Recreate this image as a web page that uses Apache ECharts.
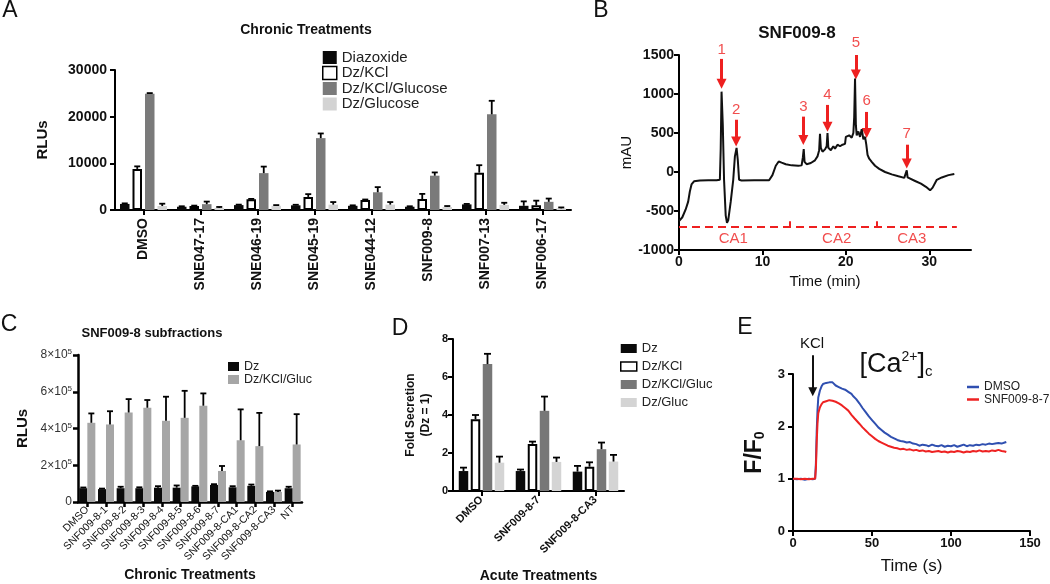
<!DOCTYPE html>
<html><head><meta charset="utf-8">
<script src="https://cdn.jsdelivr.net/npm/echarts@6/dist/echarts.min.js"></script>
<style>html,body{margin:0;padding:0;background:#fff}#c{width:1050px;height:584px}</style>
</head><body><div id="c"></div>
<script>
const FONT = '"Liberation Sans", Arial, Helvetica, sans-serif';

// ---------- Panel A ----------
const aCats = ['DMSO','SNE047-17','SNE046-19','SNE045-19','SNE044-12','SNF009-8','SNF007-13','SNF006-17'];
const aDiazoxide = [1300, 700, 1050, 1000, 900, 700, 1200, 900];
const aDiazoxideErr = [120, 100, 100, 120, 100, 100, 100, 950];
const aDzKCl = [8800, 860, 2300, 2800, 2150, 2350, 8000, 1000];
const aDzKClErr = [550, 80, 80, 600, 100, 1100, 1600, 1000];
const aDzKClGlucose = [24900, 1250, 7900, 15400, 3800, 7350, 20500, 1750];
const aDzKClGlucoseErr = [150, 550, 1400, 1000, 1100, 700, 2900, 700];
const aDzGlucose = [850, 450, 900, 1150, 1150, 650, 1100, 350];
const aDzGlucoseErr = [500, 200, 150, 550, 550, 200, 450, 200];

// ---------- Panel B ----------
const bTime = [0,0.4,0.8,1.1,1.3,1.5,1.8,2.5,3.5,4.5,4.9,5.0,5.1,5.25,5.4,5.6,5.75,5.9,6.2,6.5,6.7,6.9,7.05,7.2,7.5,9,10.8,11.2,11.6,11.95,12.3,12.8,13.5,14.3,14.7,14.85,14.95,15.05,15.3,15.8,16.3,16.6,16.8,16.9,17.0,17.2,17.5,17.7,17.8,17.9,18.2,18.5,18.7,19.0,19.3,19.6,19.9,20.0,20.2,20.4,20.7,20.9,21.0,21.1,21.2,21.3,21.5,21.7,21.9,22.1,22.3,22.45,22.6,22.8,23.1,23.5,24.0,24.7,25.5,26.3,27.0,27.2,27.3,27.4,27.6,28.3,29.0,29.6,30.1,30.4,30.9,31.5,32.3,33.0];
const bSignal = [-630,-580,-480,-380,-250,-160,-120,-108,-106,-106,-100,300,1030,600,-100,-560,-650,-620,-380,-100,200,310,150,-100,-108,-106,-106,-40,80,135,120,100,85,80,85,190,295,130,100,115,150,200,280,490,310,260,290,330,500,310,280,330,300,350,330,350,360,450,430,470,440,500,700,1200,600,470,520,450,550,420,450,350,220,170,130,80,40,0,-30,-55,-75,-50,20,-70,-90,-115,-150,-190,-235,-200,-100,-70,-40,-25];
const arrowLabels = ['1','2','3','4','5','6','7'];
const arrowTime = [5.1, 6.85, 14.9, 17.8, 21.2, 22.5, 27.3];
const arrowFrom = [1450, 670, 710, 860, 1500, 770, 350];
const arrowTo = [1130, 390, 410, 580, 1250, 500, 110];
const arrowLabelY = [1570, 800, 840, 990, 1650, 915, 490];
const caLabels = ['CA1','CA2','CA3'];
const caLabelTime = [6.5, 18.9, 27.9];
const caLabelY = -860;
const caLineY = -704;
const caLineEnd = 33.3;
const caDividers = [13.3, 23.7];
const caDividerTop = -630;

// ---------- Panel C ----------
const cCats = ['DMSO','SNF009-8-1','SNF009-8-2','SNF009-8-3','SNF009-8-4','SNF009-8-5','SNF009-8-6','SNF009-8-7','SNF009-8-CA1','SNF009-8-CA2','SNF009-8-CA3','NT'];
const cDz = [75000, 70000, 75000, 75000, 78000, 78000, 85000, 93000, 80000, 88000, 55000, 75000];
const cDzErr = [4000, 3000, 8000, 5000, 8000, 12000, 3000, 4000, 6000, 7000, 3000, 8000];
const cGluc = [431000, 422000, 487000, 513000, 442000, 458000, 524000, 169000, 336000, 304000, 55000, 313000];
const cGlucErr = [51000, 72000, 73000, 42000, 131000, 147000, 67000, 27000, 168000, 181000, 7000, 165000];

// ---------- Panel D ----------
const dCats = ['DMSO','SNF009-8-7','SNF009-8-CA3'];
const dDz = [1.05, 1.05, 1.02];
const dDzErr = [0.18, 0.08, 0.3];
const dDzKCl = [3.78, 2.48, 1.28];
const dDzKClErr = [0.22, 0.12, 0.23];
const dDzKClGluc = [6.68, 4.22, 2.2];
const dDzKClGlucErr = [0.54, 0.75, 0.35];
const dDzGluc = [1.49, 1.53, 1.55];
const dDzGlucErr = [0.32, 0.23, 0.35];

// ---------- Panel E ----------
const eTime = [0,2.5,5,7.5,10,12.5,14,14.5,15,15.5,16,17,18,19,20,21,22,23,24,25,26,27,28,29,30,31,32,33,34,35,36,37,38,39,40,42,44,46,48,50,52,54,56,58,60,62,64,66,68,70,72,74,76,78,80,82,84,86,88,90,92,94,96,98,100,102,104,106,108,110,112,114,116,118,120,122,124,126,128,130,132,134,135];
const eDMSO = [1.00,0.99,1.00,0.98,1.00,0.99,1.00,1.3,1.9,2.3,2.55,2.68,2.76,2.81,2.84,2.83,2.85,2.84,2.82,2.84,2.81,2.78,2.79,2.75,2.74,2.72,2.73,2.70,2.69,2.66,2.67,2.62,2.58,2.55,2.52,2.44,2.35,2.27,2.19,2.12,2.05,1.98,1.93,1.88,1.84,1.80,1.77,1.74,1.72,1.71,1.69,1.70,1.67,1.66,1.63,1.65,1.64,1.62,1.65,1.63,1.62,1.64,1.61,1.63,1.62,1.64,1.61,1.63,1.65,1.62,1.64,1.63,1.65,1.64,1.66,1.65,1.67,1.66,1.67,1.68,1.67,1.69,1.70];
const eSNF = [1.00,1.00,0.99,1.00,0.99,1.00,1.00,1.2,1.7,2.05,2.25,2.36,2.42,2.46,2.49,2.48,2.51,2.50,2.52,2.49,2.50,2.47,2.46,2.44,2.42,2.40,2.38,2.35,2.34,2.30,2.27,2.22,2.19,2.15,2.12,2.05,1.98,1.92,1.86,1.81,1.76,1.72,1.69,1.66,1.63,1.61,1.59,1.58,1.56,1.57,1.55,1.56,1.54,1.55,1.53,1.54,1.52,1.53,1.51,1.52,1.53,1.51,1.52,1.50,1.52,1.51,1.53,1.52,1.50,1.52,1.51,1.53,1.52,1.54,1.52,1.53,1.52,1.54,1.53,1.55,1.53,1.52,1.51];
const kclArrowTime = 12.5, kclArrowFrom = 3.36, kclArrowTo = 2.66;

// ---------- helpers ----------
function axisStyle(lw, fs, bold, margin) {
  return {
    axisLine: {show: true, onZero: false, lineStyle: {color: '#000', width: lw}},
    axisTick: {show: true, length: 5, lineStyle: {color: '#000', width: lw}},
    splitLine: {show: false},
    axisLabel: {color: '#111', fontSize: fs, fontWeight: bold ? 'bold' : 'normal', fontFamily: FONT, margin: margin}
  };
}
function merge(a, b) {
  const o = Object.assign({}, a, b);
  ['axisLine','axisTick','axisLabel'].forEach(k => { if (a[k] && b[k]) o[k] = Object.assign({}, a[k], b[k]); });
  return o;
}
function bars(name, gi, vals, color, bw, gapPx, outlined) {
  return {
    type: 'bar', name: name, xAxisIndex: gi, yAxisIndex: gi, data: vals,
    barWidth: bw, barGap: (gapPx / bw * 100) + '%', silent: true,
    itemStyle: outlined ? {color: '#fff', borderColor: '#000', borderWidth: 2} : {color: color}
  };
}
function errBars(gi, vals, errs, idx, n, bw, gapPx, cap) {
  return {
    type: 'custom', xAxisIndex: gi, yAxisIndex: gi, z: 5, silent: true,
    data: vals.map((v, i) => [i, v, v + errs[i]]),
    renderItem: function (params, api) {
      const b = api.coord([api.value(0), api.value(1)]);
      const t = api.coord([api.value(0), api.value(2)]);
      const total = n * bw + (n - 1) * gapPx;
      const x = b[0] - total / 2 + idx * (bw + gapPx) + bw / 2;
      return {type: 'group', children: [
        {type: 'line', shape: {x1: x, y1: b[1], x2: x, y2: t[1]}, style: {stroke: '#000', lineWidth: 1.8}},
        {type: 'line', shape: {x1: x - cap, y1: t[1], x2: x + cap, y2: t[1]}, style: {stroke: '#000', lineWidth: 1.8}}
      ]};
    }
  };
}
const strip = n => n.split('|')[1];
const plain = v => String(v);

const A_BW = 9.5, A_GAP = 3, D_BW = 9.5, D_GAP = 2.5, C_BW = 8, C_GAP = 0;

const grids = [
  {left: 115, top: 70, width: 456, height: 140},
  {left: 679, top: 55, width: 292, height: 195},
  {left: 78, top: 355, width: 224, height: 147},
  {left: 453, top: 339, width: 171, height: 152},
  {left: 793, top: 374, width: 237, height: 157}
].map(g => Object.assign({outerBoundsMode: 'none', containLabel: false}, g));

const xAxes = [
  merge(axisStyle(2, 14, true, 8), {type: 'category', gridIndex: 0, data: aCats,
    axisTick: {alignWithLabel: true}, axisLabel: {rotate: 90, interval: 0}}),
  merge(axisStyle(2, 14, true, 5), {type: 'value', gridIndex: 1, min: 0, max: 35,
    axisTick: {customValues: [0, 10, 20, 30]}, axisLabel: {customValues: [0, 10, 20, 30]},
    name: 'Time (min)', nameLocation: 'middle', nameGap: 24,
    nameTextStyle: {fontSize: 15, fontFamily: FONT, color: '#111'}}),
  merge(axisStyle(2.5, 10.5, false, 6), {type: 'category', gridIndex: 2, data: cCats,
    axisTick: {alignWithLabel: true}, axisLabel: {rotate: 45, interval: 0},
    name: 'Chronic Treatments', nameLocation: 'middle', nameGap: 66,
    nameTextStyle: {fontSize: 14, fontWeight: 'bold', fontFamily: FONT, color: '#111'}}),
  merge(axisStyle(2, 11, true, 7), {type: 'category', gridIndex: 3, data: dCats,
    axisTick: {alignWithLabel: true}, axisLabel: {rotate: 45, interval: 0},
    name: 'Acute Treatments', nameLocation: 'middle', nameGap: 78,
    nameTextStyle: {fontSize: 14, fontWeight: 'bold', fontFamily: FONT, color: '#111'}}),
  merge(axisStyle(2, 13, true, 6), {type: 'value', gridIndex: 4, min: 0, max: 150, interval: 50,
    name: 'Time (s)', nameLocation: 'middle', nameGap: 27,
    nameTextStyle: {fontSize: 17, fontFamily: FONT, color: '#111'}})
];
const yAxes = [
  merge(axisStyle(2, 14, true, 8), {type: 'value', gridIndex: 0, min: 0, max: 30000, interval: 10000,
    axisLabel: {formatter: plain},
    name: 'RLUs', nameLocation: 'middle', nameGap: 65,
    nameTextStyle: {fontSize: 15, fontWeight: 'bold', fontFamily: FONT, color: '#111'}}),
  merge(axisStyle(2, 14, true, 5), {type: 'value', gridIndex: 1, min: -1000, max: 1500, interval: 500,
    axisLabel: {formatter: plain},
    name: 'mAU', nameLocation: 'middle', nameGap: 44,
    nameTextStyle: {fontSize: 15, fontFamily: FONT, color: '#111'}}),
  merge(axisStyle(2.5, 12, false, 6), {type: 'value', gridIndex: 2, min: 0, max: 800000, interval: 200000,
    axisLabel: {color: '#333', formatter: v => v === 0 ? '0' : '{m|' + (v / 100000) + '×10}{s|5}',
      rich: {m: {fontSize: 12, fontFamily: FONT, color: '#333'}, s: {fontSize: 8, fontFamily: FONT, color: '#333', verticalAlign: 'top', padding: [0, 0, 6, 0]}}},
    name: 'RLUs', nameLocation: 'middle', nameGap: 48,
    nameTextStyle: {fontSize: 15, fontWeight: 'bold', fontFamily: FONT, color: '#111'}}),
  merge(axisStyle(2, 11, true, 5), {type: 'value', gridIndex: 3, min: 0, max: 8, interval: 2,
    name: 'Fold Secretion\n(Dz = 1)', nameLocation: 'middle', nameGap: 20,
    nameTextStyle: {fontSize: 12, fontWeight: 'bold', fontFamily: FONT, color: '#111', lineHeight: 15}}),
  merge(axisStyle(2, 13, true, 8), {type: 'value', gridIndex: 4, min: 0, max: 3, interval: 1,
    name: '{m|F/F}{s|0}', nameLocation: 'middle', nameGap: 26,
    nameTextStyle: {rich: {m: {fontSize: 23, fontWeight: 'bold', fontFamily: FONT, color: '#111'},
      s: {fontSize: 14, fontWeight: 'bold', fontFamily: FONT, color: '#111', verticalAlign: 'bottom', padding: [10, 0, 0, 0]}}}})
];

const series = [
  // A
  bars('A|Diazoxide', 0, aDiazoxide, '#0a0a0a', A_BW, A_GAP),
  bars('A|Dz/KCl', 0, aDzKCl, '#fff', A_BW, A_GAP, true),
  bars('A|Dz/KCl/Glucose', 0, aDzKClGlucose, '#7a7a7a', A_BW, A_GAP),
  bars('A|Dz/Glucose', 0, aDzGlucose, '#d3d3d3', A_BW, A_GAP),
  errBars(0, aDiazoxide, aDiazoxideErr, 0, 4, A_BW, A_GAP, 3),
  errBars(0, aDzKCl, aDzKClErr, 1, 4, A_BW, A_GAP, 3),
  errBars(0, aDzKClGlucose, aDzKClGlucoseErr, 2, 4, A_BW, A_GAP, 3),
  errBars(0, aDzGlucose, aDzGlucoseErr, 3, 4, A_BW, A_GAP, 3),
  // B
  {type: 'line', xAxisIndex: 1, yAxisIndex: 1, showSymbol: false, silent: true,
    data: bTime.map((t, i) => [t, bSignal[i]]), lineStyle: {color: '#111', width: 2}},
  {type: 'line', xAxisIndex: 1, yAxisIndex: 1, showSymbol: false, silent: true,
    data: [[0, caLineY], [caLineEnd, caLineY]], lineStyle: {color: '#ee2020', width: 2, type: [8, 5]}},
  {type: 'lines', coordinateSystem: 'cartesian2d', xAxisIndex: 1, yAxisIndex: 1, silent: true,
    data: caDividers.map(t => ({coords: [[t, caLineY], [t, caDividerTop]]})),
    lineStyle: {color: '#ee2020', width: 2, opacity: 1}},
  {type: 'lines', coordinateSystem: 'cartesian2d', xAxisIndex: 1, yAxisIndex: 1, silent: true, clip: false,
    symbol: ['none', 'triangle'], symbolSize: [0, 10],
    data: arrowTime.map((t, i) => ({coords: [[t, arrowFrom[i]], [t, arrowTo[i]]]})),
    lineStyle: {color: '#ee2020', width: 3, opacity: 1}},
  {type: 'scatter', xAxisIndex: 1, yAxisIndex: 1, silent: true, clip: false, symbolSize: 1,
    itemStyle: {color: 'rgba(0,0,0,0)'},
    data: arrowTime.map((t, i) => ({value: [t, arrowLabelY[i]], name: arrowLabels[i]})),
    label: {show: true, position: 'inside', formatter: p => p.name, color: '#ee2020', fontSize: 15, fontFamily: FONT}},
  {type: 'scatter', xAxisIndex: 1, yAxisIndex: 1, silent: true, clip: false, symbolSize: 1,
    itemStyle: {color: 'rgba(0,0,0,0)'},
    data: caLabelTime.map((t, i) => ({value: [t, caLabelY], name: caLabels[i]})),
    label: {show: true, position: 'inside', formatter: p => p.name, color: '#ee2020', fontSize: 15, fontFamily: FONT}},
  // C
  bars('C|Dz', 2, cDz, '#0a0a0a', C_BW, C_GAP),
  bars('C|Dz/KCl/Gluc', 2, cGluc, '#a6a6a6', C_BW, C_GAP),
  errBars(2, cDz, cDzErr, 0, 2, C_BW, C_GAP, 3),
  errBars(2, cGluc, cGlucErr, 1, 2, C_BW, C_GAP, 3),
  // D
  bars('D|Dz', 3, dDz, '#0a0a0a', D_BW, D_GAP),
  bars('D|Dz/KCl', 3, dDzKCl, '#fff', D_BW, D_GAP, true),
  bars('D|Dz/KCl/Gluc', 3, dDzKClGluc, '#777777', D_BW, D_GAP),
  bars('D|Dz/Gluc', 3, dDzGluc, '#d4d4d4', D_BW, D_GAP),
  errBars(3, dDz, dDzErr, 0, 4, D_BW, D_GAP, 3.5),
  errBars(3, dDzKCl, dDzKClErr, 1, 4, D_BW, D_GAP, 3.5),
  errBars(3, dDzKClGluc, dDzKClGlucErr, 2, 4, D_BW, D_GAP, 3.5),
  errBars(3, dDzGluc, dDzGlucErr, 3, 4, D_BW, D_GAP, 3.5),
  // E
  {type: 'line', name: 'E|DMSO', xAxisIndex: 4, yAxisIndex: 4, showSymbol: false, silent: true,
    data: eTime.map((t, i) => [t, eDMSO[i]]), lineStyle: {color: '#2f4fb0', width: 2}, itemStyle: {color: '#2f4fb0'}},
  {type: 'line', name: 'E|SNF009-8-7', xAxisIndex: 4, yAxisIndex: 4, showSymbol: false, silent: true,
    data: eTime.map((t, i) => [t, eSNF[i]]), lineStyle: {color: '#ee2222', width: 2}, itemStyle: {color: '#ee2222'}},
  {type: 'lines', coordinateSystem: 'cartesian2d', xAxisIndex: 4, yAxisIndex: 4, silent: true, clip: false,
    symbol: ['none', 'triangle'], symbolSize: [0, 9],
    data: [{coords: [[kclArrowTime, kclArrowFrom], [kclArrowTime, kclArrowTo]]}],
    lineStyle: {color: '#111', width: 2, opacity: 1}}
];

function legend(names, styles, opts) {
  return Object.assign({
    orient: 'vertical', selectedMode: false, formatter: strip, icon: 'rect', itemGap: 0,
    textStyle: {fontFamily: FONT, color: '#222'},
    data: names.map((n, i) => ({name: n, itemStyle: styles[i]}))
  }, opts);
}
const blk = {color: '#0a0a0a'};
const wht = {color: '#fff', borderColor: '#000', borderWidth: 1.5};

const legends = [
  legend(['A|Diazoxide', 'A|Dz/KCl', 'A|Dz/KCl/Glucose', 'A|Dz/Glucose'],
    [blk, wht, {color: '#7a7a7a'}, {color: '#d3d3d3'}],
    {left: 317, top: 45, itemWidth: 14, itemHeight: 13, itemGap: 0.5, textStyle: {fontFamily: FONT, color: '#222', fontSize: 15}}),
  legend(['C|Dz', 'C|Dz/KCl/Gluc'], [blk, {color: '#a6a6a6'}],
    {left: 223, top: 355, itemWidth: 11, itemHeight: 9, itemGap: 0, textStyle: {fontFamily: FONT, color: '#222', fontSize: 12.5}}),
  legend(['D|Dz', 'D|Dz/KCl', 'D|Dz/KCl/Gluc', 'D|Dz/Gluc'],
    [blk, wht, {color: '#777777'}, {color: '#d4d4d4'}],
    {left: 615, top: 337, itemWidth: 16, itemHeight: 9, itemGap: 5, textStyle: {fontFamily: FONT, color: '#222', fontSize: 13}}),
  legend(['E|DMSO', 'E|SNF009-8-7'], [{color: '#2f4fb0'}, {color: '#ee2222'}],
    {left: 962, top: 376, itemWidth: 12, itemHeight: 2.5, itemGap: 0.5, textStyle: {fontFamily: FONT, color: '#222', fontSize: 12}})
];

function txt(x, y, text, size, weight, extra) {
  return {type: 'text', x: x, y: y, silent: true,
    style: Object.assign({text: text, fontSize: size, fontWeight: weight || 'normal', fontFamily: FONT, fill: '#111', align: 'center', verticalAlign: 'middle'}, extra || {})};
}
const graphics = [
  txt(10, 11, 'A', 23), txt(601, 11, 'B', 23), txt(9, 325, 'C', 23), txt(400, 329, 'D', 23), txt(745, 328, 'E', 23),
  txt(306, 30, 'Chronic Treatments', 14, 'bold'),
  txt(797, 33, 'SNF009-8', 17, 'bold'),
  txt(152, 333, 'SNF009-8 subfractions', 13, 'bold'),
  txt(812, 344, 'KCl', 15),
  txt(896, 365, '{b|[Ca}{sup|2+}{b|]}{sub|c}', 26, 'normal', {
    rich: {
      b: {fontSize: 27, fontFamily: FONT, fill: '#111'},
      sup: {fontSize: 14, fontFamily: FONT, fill: '#111', verticalAlign: 'top'},
      sub: {fontSize: 15, fontFamily: FONT, fill: '#111', verticalAlign: 'bottom', padding: [14, 0, 0, 0]}
    }})
];

const chart = echarts.init(document.getElementById('c'), null, {renderer: 'canvas'});
chart.setOption({
  animation: false,
  backgroundColor: '#fff',
  grid: grids, xAxis: xAxes, yAxis: yAxes, series: series, legend: legends, graphic: graphics
});
</script></body></html>
